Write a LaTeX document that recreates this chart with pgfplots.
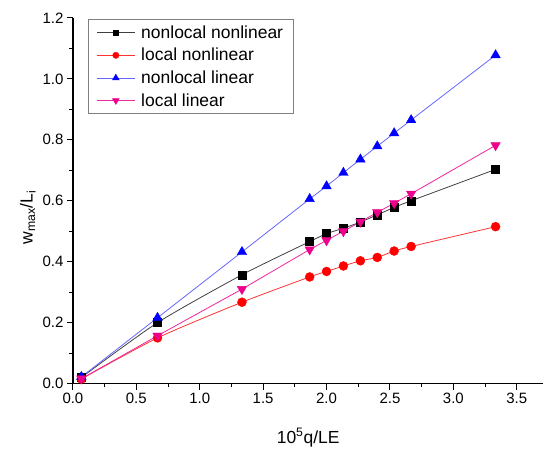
\documentclass[border=0pt]{standalone}
\usepackage{fontspec}
\setmainfont{Liberation Sans}
\usepackage{pgfplots}
\pgfplotsset{compat=1.18}
\begin{document}
\begin{tikzpicture}
\begin{axis}[
    at={(0,0)}, anchor=south west,
    scale only axis,
    width=471pt, height=366pt,
    xmin=0, xmax=3.71,
    ymin=0, ymax=1.2,
    axis x line*=bottom,
    axis y line*=left,
    axis line style={line width=1.2pt},
    xtick={0,0.5,1,1.5,2,2.5,3,3.5},
    ytick={0,0.2,0.4,0.6,0.8,1.0,1.2},
    minor x tick num=1,
    minor y tick num=1,
    tick align=outside,
    major tick length=6pt,
    minor tick length=3.5pt,
    tick style={black, line width=1pt},
    /pgf/number format/assume math mode=true,
    /pgf/number format/fixed,
    /pgf/number format/precision=1,
    /pgf/number format/fixed zerofill,
    tick label style={font=\fontsize{15}{17}\selectfont},
    label style={font=\fontsize{17.5}{20}\selectfont},
    xlabel={10\textsuperscript{5}q/LE},
    ylabel={w\textsubscript{max}/L\textsubscript{i}},
    xlabel style={at={(axis description cs:0.5,0)}, anchor=center, yshift=-54pt},
    ylabel style={at={(axis description cs:-0.096,0.454)}, anchor=center},
    legend cell align=left,
    legend style={
        at={(axis description cs:0.032,0.997)},
        anchor=north west,
        draw=gray, line width=1pt,
        font=\fontsize{17.5}{19}\selectfont,
        inner xsep=8pt, inner ysep=4pt,
        row sep=4.5pt,
    },
    legend image code/.code={
        \draw[#1, mark repeat=2, mark phase=2, every mark/.append style={scale=0.7}]
            plot coordinates {(0pt,0pt) (19pt,0pt) (38pt,0pt)};
        \path (42pt,0pt);
    },
]
\addplot[color=black!75, line width=0.8pt, smooth, tension=0.4,
    mark=square*, mark size=4pt, mark options={fill=black, draw=black, line width=0.4pt}]
    coordinates {
    (0.0667, 0.020) (0.667, 0.200) (1.333, 0.357) (1.867, 0.466)
    (2.0, 0.492) (2.133, 0.510) (2.267, 0.530) (2.4, 0.554)
    (2.533, 0.578) (2.667, 0.600) (3.333, 0.703)
};
\addplot[color=red!80, line width=0.8pt, smooth, tension=0.4,
    mark=*, mark size=4.5pt, mark options={fill=red, draw=red, line width=0.4pt}]
    coordinates {
    (0.0667, 0.015) (0.667, 0.150) (1.333, 0.267) (1.867, 0.350)
    (2.0, 0.368) (2.133, 0.386) (2.267, 0.403) (2.4, 0.414)
    (2.533, 0.435) (2.667, 0.450) (3.333, 0.515)
};
\addplot[color=blue!60, line width=0.8pt,
    mark=triangle*, mark size=5.5pt, mark options={fill=blue, draw=blue, line width=0.4pt}]
    coordinates {
    (0.0667, 0.022) (0.667, 0.216) (1.333, 0.432) (1.867, 0.606)
    (2.0, 0.648) (2.133, 0.692) (2.267, 0.736) (2.4, 0.779)
    (2.533, 0.822) (2.667, 0.865) (3.333, 1.078)
};
\addplot[color=magenta!85, line width=0.8pt,
    mark=triangle*, mark size=5.5pt, mark options={fill=magenta, draw=magenta, line width=0.4pt, rotate=180}]
    coordinates {
    (0.0667, 0.016) (0.667, 0.157) (1.333, 0.310) (1.867, 0.440)
    (2.0, 0.470) (2.133, 0.500) (2.267, 0.531) (2.4, 0.562)
    (2.533, 0.592) (2.667, 0.623) (3.333, 0.782)
};
\legend{nonlocal nonlinear, local nonlinear, nonlocal linear, local linear}
\end{axis}
\path[use as bounding box] (-73pt,-63pt) rectangle (471pt,384pt);
\end{tikzpicture}
\end{document}
